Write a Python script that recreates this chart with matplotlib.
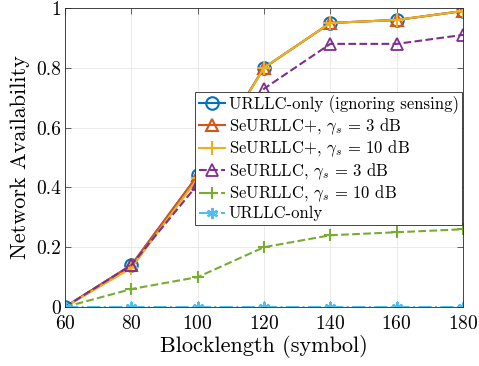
import matplotlib
matplotlib.use("Agg")
import matplotlib.pyplot as plt

plt.rcParams['font.family'] = ['cmr10', 'DejaVu Serif']
plt.rcParams['mathtext.fontset'] = 'cm'
plt.rcParams['axes.formatter.use_mathtext'] = True

blocklength = [60, 80, 100, 120, 140, 160, 180]
urllc_ignoring = [0, 0.14, 0.44, 0.80, 0.95, 0.96, 0.99]
seurllc_plus_3 = [0, 0.14, 0.44, 0.80, 0.95, 0.96, 0.99]
seurllc_plus_10 = [0, 0.13, 0.43, 0.80, 0.95, 0.96, 0.99]
seurllc_3 = [0, 0.14, 0.41, 0.73, 0.88, 0.88, 0.91]
seurllc_10 = [0, 0.06, 0.10, 0.20, 0.24, 0.25, 0.26]
urllc_only = [0, 0, 0, 0, 0, 0, 0]

labels = ['URLLC-only (ignoring sensing)',
          r'SeURLLC+, $\gamma_s$ = 3 dB',
          r'SeURLLC+, $\gamma_s$ = 10 dB',
          r'SeURLLC, $\gamma_s$ = 3 dB',
          r'SeURLLC, $\gamma_s$ = 10 dB',
          'URLLC-only']
xticks = [60, 80, 100, 120, 140, 160, 180]
yticks = [0, 0.2, 0.4, 0.6, 0.8, 1]
ytick_labels = ['0', '0.2', '0.4', '0.6', '0.8', '1']

fig = plt.figure(figsize=(4.79, 3.66), dpi=100)
ax = fig.add_axes([65/479, 1-307/366, 398/479, 299/366])

lw = 1.5
ms = 8
ax.plot(blocklength, urllc_ignoring, '-', color='#0072BD', marker='o', ms=ms+1,
        mfc='none', mew=1.5, lw=lw, label=labels[0])
ax.plot(blocklength, seurllc_plus_3, '-', color='#D95319', marker='^', ms=ms,
        mfc='none', mew=1.5, lw=lw, label=labels[1])
ax.plot(blocklength, seurllc_plus_10, '-', color='#EDB120', marker='+', ms=ms+2,
        mew=1.5, lw=lw, label=labels[2])
ax.plot(blocklength, seurllc_3, '--', color='#7E2F8E', marker='^', ms=ms+1,
        mfc='none', mew=1.3, lw=lw, label=labels[3])
ax.plot(blocklength, seurllc_10, '--', color='#77AC30', marker='+', ms=ms+1,
        mew=1.5, lw=lw, label=labels[4])
ax.plot(blocklength, urllc_only, '-.', color='#4DBEEE', marker=(6, 2, 0), ms=ms,
        mew=1.5, lw=lw, label=labels[5])

ax.set_xlim(60, 180)
ax.set_ylim(0, 1)
ax.set_xticks(xticks)
ax.set_yticks(yticks)
ax.set_yticklabels(ytick_labels)
ax.tick_params(direction='in', labelsize=14, length=4, width=0.5, color='0.15',
               top=True, right=True)
ax.tick_params(axis='x', pad=6)
ax.tick_params(axis='y', pad=3)
ax.grid(True, color='0.9', lw=0.6)
ax.set_axisbelow(True)
for s in ax.spines.values():
    s.set_linewidth(0.6)
    s.set_color('0.15')

ax.set_xlabel('Blocklength (symbol)', fontsize=16, labelpad=1)
ax.set_ylabel('Network Availability', fontsize=16, labelpad=4)

leg = ax.legend(loc='center right', bbox_to_anchor=(0.998, 0.497), fontsize=12,
                frameon=True, fancybox=False, edgecolor='0.15', framealpha=1,
                handlelength=1.6, handletextpad=0.2, borderpad=0.22,
                labelspacing=0.12, borderaxespad=0)
leg.get_frame().set_linewidth(0.6)

fig.savefig('out.png', dpi=100)
